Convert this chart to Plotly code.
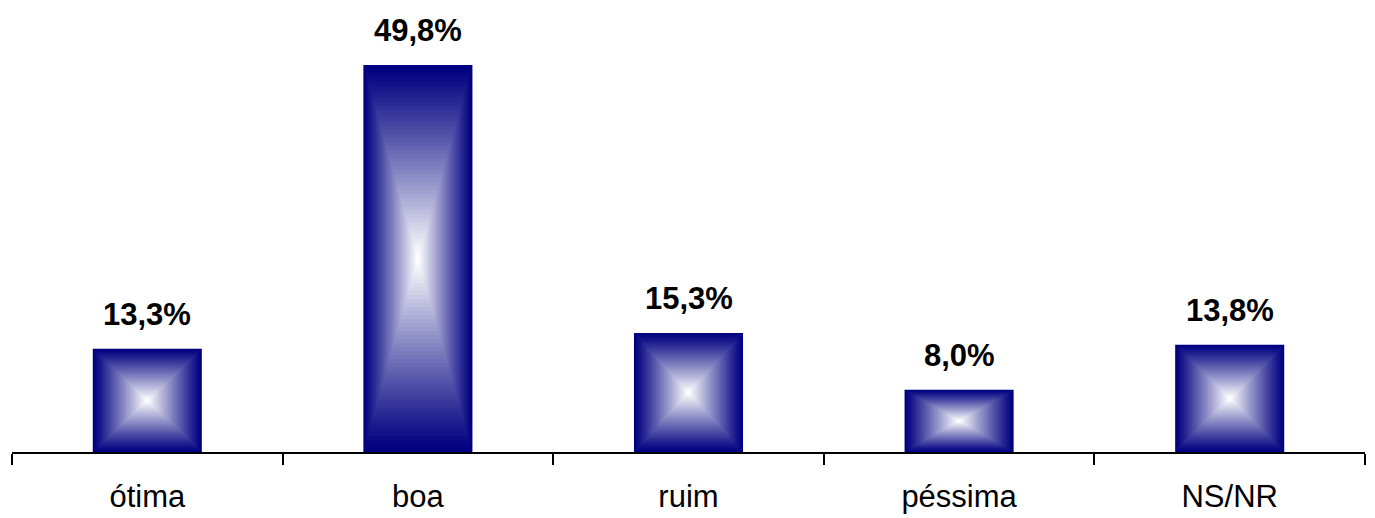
import plotly.graph_objects as go

categories = ["ótima", "boa", "ruim", "péssima", "NS/NR"]
values = [13.3, 49.8, 15.3, 8.0, 13.8]
labels = ["13,3%", "49,8%", "15,3%", "8,0%", "13,8%"]

BAR_W = 0.403
N = 48
edge = (0, 0, 128)
center = (255, 255, 255)

fig = go.Figure()
for k in range(N):
    s = 1 - k / N
    t = (k / (N - 1)) ** 1.1
    col = "rgb({},{},{})".format(*[round(edge[i] + (center[i] - edge[i]) * t) for i in range(3)])
    fig.add_trace(go.Bar(
        x=categories,
        y=[v * s for v in values],
        base=[v * (1 - s) / 2 for v in values],
        width=BAR_W * s,
        marker=dict(color=col, line=dict(width=0)),
        hoverinfo="skip",
        showlegend=False,
    ))

for c, v, lab in zip(categories, values, labels):
    fig.add_annotation(x=c, y=v, text=lab, showarrow=False, yanchor="bottom",
                       yshift=15, font=dict(family="Liberation Sans, Arial", size=31, color="black"))

fig.update_layout(
    barmode="overlay",
    width=1375, height=518,
    margin=dict(l=12, r=10, t=20, b=66, autoexpand=False),
    paper_bgcolor="white", plot_bgcolor="white",
    font=dict(family="Liberation Sans, Arial", color="black"),
)
fig.update_annotations(font_weight="bold")
fig.update_xaxes(
    range=[-0.5, 4.5], showline=True, linecolor="black", linewidth=2,
    ticks="outside", tickson="boundaries", ticklen=11, tickwidth=2, tickcolor="black",
    tickfont=dict(size=31, color="black", family="Liberation Sans, Arial"),
    ticklabelstandoff=16, showgrid=False, zeroline=False, automargin=False,
)
fig.update_yaxes(range=[0, 55.6], visible=False, showgrid=False, zeroline=False, automargin=False)

fig.write_html("out.html", config={"displayModeBar": False},
               post_script="document.body.style.margin='0';")
